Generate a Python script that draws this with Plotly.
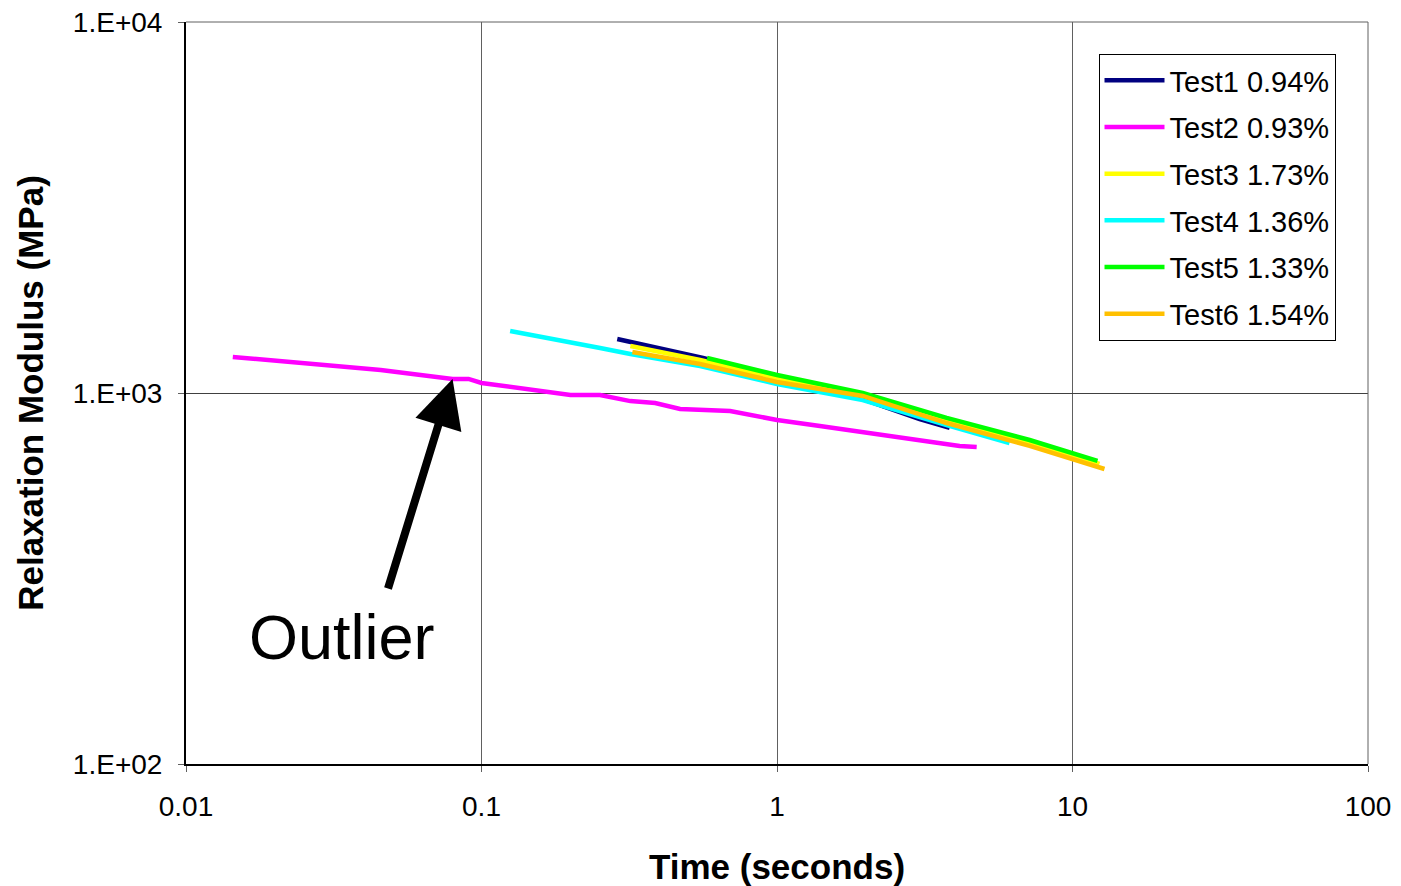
import plotly.graph_objects as go
import math

# ---- data ----
test1_t = [0.288, 0.402, 0.562, 1.0, 1.907, 3.04, 3.84]
test1_E = [1398, 1322, 1243, 1104, 969, 851, 805]

test2_t = [0.0144, 0.0245, 0.0456, 0.0798, 0.0904, 0.100, 0.1354, 0.200, 0.252, 0.319,
           0.387, 0.470, 0.694, 1.0, 1.397, 2.014, 2.97, 4.15, 4.74]
test2_E = [1251, 1205, 1153, 1091, 1091, 1064, 1031, 988, 988, 951,
           940, 906, 894, 846, 815, 780, 747, 720, 715]

test3_t = [0.319, 0.549, 1.0, 1.95, 3.75, 7.16, 12.34]
test3_E = [1339, 1227, 1098, 994, 846, 733, 644]

test4_t = [0.125, 0.185, 0.252, 0.319, 0.549, 1.0, 1.95, 3.75, 6.12]
test4_E = [1469, 1390, 1322, 1274, 1182, 1057, 957, 820, 733]

test5_t = [0.58, 1.0, 1.95, 3.75, 7.16, 12.15]
test5_E = [1243, 1118, 1000, 857, 747, 656]

test6_t = [0.324, 0.549, 1.0, 1.95, 3.75, 7.16, 12.83]
test6_E = [1290, 1197, 1071, 982, 830, 720, 624]

series_names = ["Test1 0.94%", "Test2 0.93%", "Test3 1.73%", "Test4 1.36%", "Test5 1.33%", "Test6 1.54%"]
series_colors = ["#000080", "#FF00FF", "#FFFF00", "#00FFFF", "#00FF00", "#FFC000"]

x_tick_vals = [0.01, 0.1, 1, 10, 100]
x_tick_text = ["0.01", "0.1", "1", "10", "100"]
y_tick_vals = [100, 1000, 10000]
y_tick_text = ["1.E+02", "1.E+03", "1.E+04"]

outlier_t = 0.0798
outlier_E = 1091

series = [(test1_t, test1_E), (test2_t, test2_E), (test3_t, test3_E),
          (test4_t, test4_E), (test5_t, test5_E), (test6_t, test6_E)]

fig = go.Figure()
for i, ((t, e), name, col) in enumerate(zip(series, series_names, series_colors)):
    fig.add_trace(go.Scatter(x=t, y=e, mode="lines", name=name,
                             legendgroup=f"g{i}",
                             line=dict(color=col, width=4.5)))

font_main = "Liberation Sans, Arial, sans-serif"

fig.update_layout(
    width=1401, height=886,
    margin=dict(l=178, r=41, t=14, b=130),
    paper_bgcolor="white", plot_bgcolor="white",
    font=dict(family=font_main, color="black", size=28),
    showlegend=True,
    legend=dict(x=0.772, y=0.957, xanchor="left", yanchor="top",
                bgcolor="white", bordercolor="black", borderwidth=1,
                font=dict(size=29, family=font_main),
                tracegroupgap=6, itemwidth=60),
    xaxis=dict(type="log", range=[-2, 2], tickvals=x_tick_vals, ticktext=x_tick_text,
               automargin=False, ticklabeloverflow="allow",
               showgrid=True, gridcolor="#606060", gridwidth=1,
               showline=True, linecolor="black", linewidth=2,
               ticks="outside", ticklen=6, tickcolor="#606060",
               ticklabelstandoff=10,
               tickfont=dict(size=28),
               title=dict(text="<b>Time (seconds)</b>", font=dict(size=35), standoff=34),
               zeroline=False),
    yaxis=dict(type="log", range=[2, 4], tickvals=y_tick_vals, ticktext=y_tick_text,
               automargin=False, ticklabeloverflow="allow",
               showgrid=True, gridcolor="#404040", gridwidth=1,
               showline=True, linecolor="black", linewidth=2,
               ticks="outside", ticklen=6, tickcolor="#606060",
               ticklabelstandoff=10,
               tickfont=dict(size=28),
               title=dict(text="<b>Relaxation Modulus (MPa)</b>", font=dict(size=35), standoff=19),
               zeroline=False),
)

# top and right frame lines
fig.add_shape(type="line", xref="paper", yref="paper", x0=0, x1=1, y0=1, y1=1,
              line=dict(color="#606060", width=1))
fig.add_shape(type="line", xref="paper", yref="paper", x0=1, x1=1, y0=0, y1=1,
              line=dict(color="#606060", width=1))

# arrow pointing to the outlier
fig.add_annotation(x=math.log10(outlier_t), y=math.log10(outlier_E), xref="x", yref="y",
                   ax=-65, ay=211, axref="pixel", ayref="pixel",
                   text="", showarrow=True, arrowhead=2, arrowsize=1.2,
                   arrowwidth=8, arrowcolor="black", standoff=0)
fig.add_annotation(x=math.log10(outlier_t), y=math.log10(outlier_E), xref="x", yref="y",
                   xshift=-111, yshift=-258, text="Outlier", showarrow=False,
                   font=dict(size=63, family="Liberation Sans, Arial, sans-serif", color="black"))

fig.write_html("out.html")
